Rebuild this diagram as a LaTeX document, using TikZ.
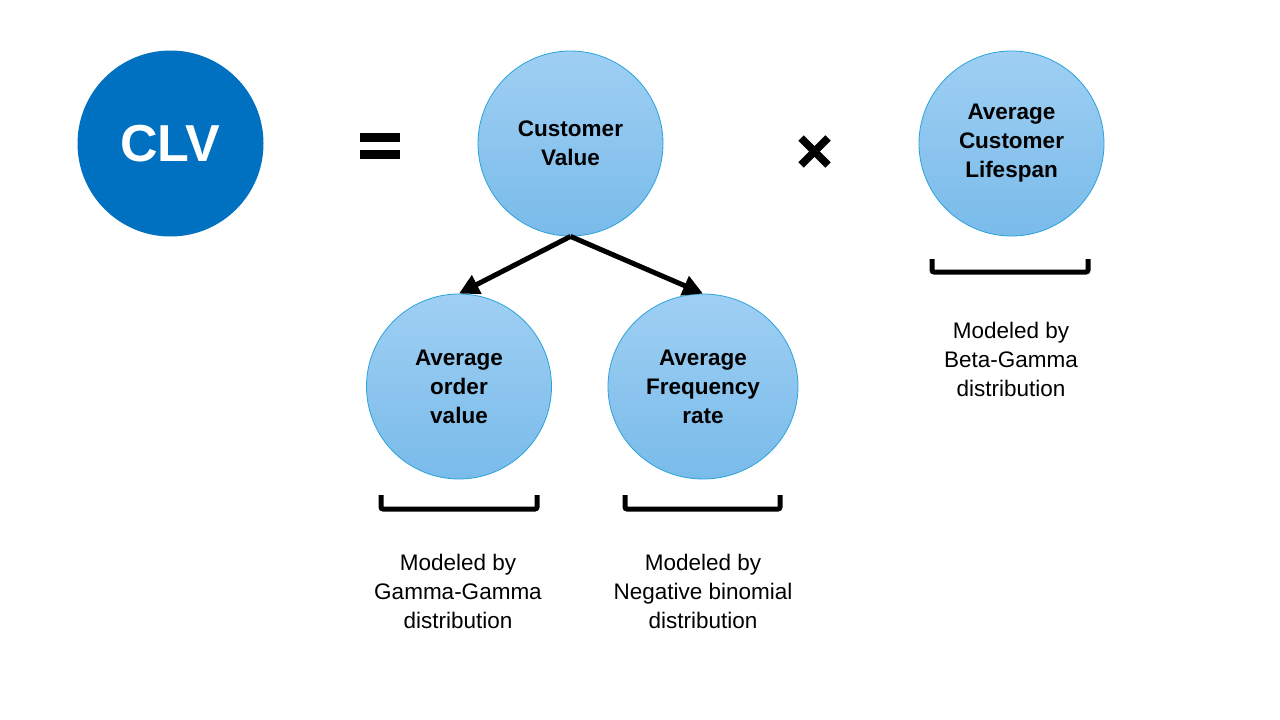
\documentclass[tikz,border=0pt]{standalone}
\usepackage{fontspec}
\setmainfont{Liberation Sans}
\usetikzlibrary{arrows.meta,shapes.geometric}
\definecolor{clvblue}{HTML}{0070C0}
\definecolor{ctop}{HTML}{9FCFF3}
\definecolor{cbot}{HTML}{79BBEA}
\definecolor{cedge}{HTML}{2AA3DC}
\tikzset{
  bubble/.style={circle, draw=cedge, line width=0.8pt, top color=ctop, bottom color=cbot,
    minimum size=#1, inner sep=0pt, align=center,
    font=\bfseries\fontsize{22.5}{29}\selectfont},
  bubble/.default=185pt,
  note/.style={align=center, font=\fontsize{22.5}{29}\selectfont},
  brace/.style={line width=5pt, rounded corners=2pt},
  conn/.style={line width=5pt, -{Triangle[length=20pt,width=20pt]}},
  opbar/.style={fill=black, draw=none},
}
\begin{document}
\begin{tikzpicture}[x=1pt,y=-1pt]
\useasboundingbox (0,0) rectangle (1280,720);
\node[circle, fill=clvblue, minimum size=186pt, inner sep=0pt, text=white,
  font=\bfseries\fontsize{52}{60}\selectfont] (clv) at (170.5,143.5) {CLV};
% equals sign
\fill[opbar] (360,133) rectangle (400,142);
\fill[opbar] (360,150) rectangle (400,159);
% times sign
\draw[line width=7.5pt] (801,138) -- (828,165);
\draw[line width=7.5pt] (801,165) -- (828,138);
\node[bubble] (cv) at (570.5,143.5) {Customer\\Value};
\node[bubble] (acl) at (1011.5,143.5) {Average\\Customer\\Lifespan};
\node[bubble] (aov) at (459,386.5) {Average\\order\\value};
\node[ellipse, draw=cedge, line width=0.8pt, top color=ctop, bottom color=cbot,
  minimum width=190pt, minimum height=185pt, inner sep=0pt, align=center,
  font=\bfseries\fontsize{22.5}{29}\selectfont] (afr) at (703,386.5) {Average\\Frequency\\rate};
\draw[conn] (cv.south) -- (aov.north);
\draw[conn] (cv.south) -- (afr.north);
% brackets
\draw[brace] (381,495) -- (381,509) -- (537,509) -- (537,495);
\draw[brace] (625,495) -- (625,509) -- (780,509) -- (780,495);
\draw[brace] (932,259) -- (932,272) -- (1088,272) -- (1088,259);
\node[note] (n1) at (458,591) {Modeled by\\Gamma-Gamma\\distribution};
\node[note] (n2) at (703,591) {Modeled by\\Negative binomial\\distribution};
\node[note] (n3) at (1011,359) {Modeled by\\Beta-Gamma\\distribution};
\end{tikzpicture}
\end{document}
